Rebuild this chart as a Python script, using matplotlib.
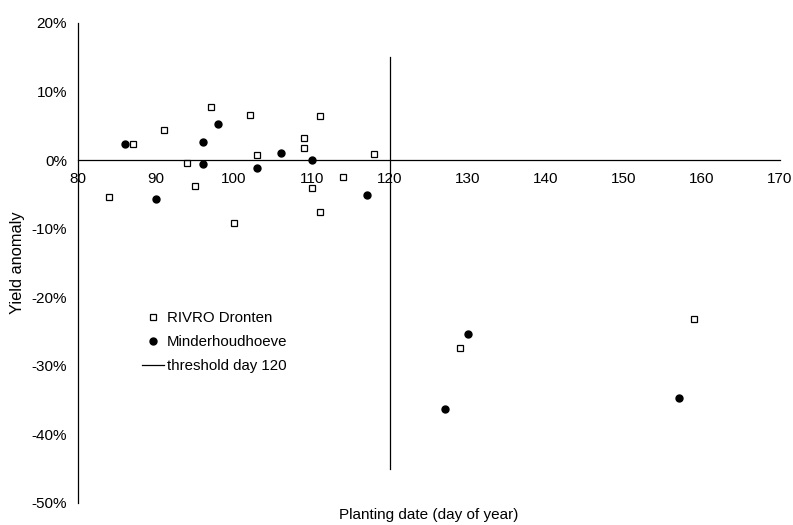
import matplotlib.pyplot as plt
from matplotlib.ticker import FuncFormatter

plt.rcParams['font.family'] = ['Liberation Sans', 'DejaVu Sans']
plt.rcParams['font.size'] = 11

# RIVRO Dronten (day of year, yield anomaly %)
rivro_day = [97, 102, 111, 91, 87, 109, 109, 103, 118, 94, 95, 114, 110, 84, 111, 100, 159, 129]
rivro_anom = [7.8, 6.6, 6.4, 4.4, 2.3, 3.3, 1.75, 0.7, 0.9, -0.4, -3.7, -2.4, -4.0, -5.4, -7.5, -9.1, -23.2, -27.4]

# Minderhoudhoeve
mind_day = [86, 98, 96, 96, 106, 110, 103, 90, 117, 130, 127, 157]
mind_anom = [2.4, 5.3, 2.6, -0.5, 1.1, 0.05, -1.1, -5.6, -5.15, -25.4, -36.3, -34.7]

thr_day = [120, 120]
thr_anom = [-45, 15]

x_ticks = [80, 90, 100, 110, 120, 130, 140, 150, 160, 170]
y_ticks = [-50, -40, -30, -20, -10, 0, 10, 20]

fig = plt.figure(figsize=(7.93, 5.25), dpi=100)
ax = fig.add_axes([78/793, 1 - 503/525, 702/793, 480/525])

ax.plot(rivro_day, rivro_anom, ls='none', marker='s', ms=4.3, mfc='white',
        mec='black', mew=0.9, label='RIVRO Dronten')
ax.plot(mind_day, mind_anom, ls='none', marker='o', ms=5, mfc='black',
        mec='black', label='Minderhoudhoeve')
ax.plot(thr_day, thr_anom, color='black', lw=0.9, label='threshold day 120')

ax.set_xlim(80, 170)
ax.set_ylim(-50, 20)
ax.set_xticks(x_ticks)
ax.set_yticks(y_ticks)
ax.yaxis.set_major_formatter(FuncFormatter(lambda v, p: '%d%%' % v))

ax.spines['top'].set_visible(False)
ax.spines['right'].set_visible(False)
ax.spines['bottom'].set_position(('data', 0))
ax.spines['left'].set_linewidth(0.9)
ax.spines['bottom'].set_linewidth(0.9)
ax.tick_params(axis='both', length=0)
ax.tick_params(axis='x', pad=8.5)
ax.tick_params(axis='y', pad=8)

ax.set_xlabel('Planting date (day of year)', fontsize=11)
ax.xaxis.label.set_va('center')
ax.xaxis.set_label_coords(0.5, -(515 - 503) / 480)
ax.set_ylabel('Yield anomaly', fontsize=11.8)
ax.yaxis.label.set_va('center')
ax.yaxis.set_label_coords((18 - 78) / 702, 0.5)

ax.legend(loc='upper left', bbox_to_anchor=(142/793, 1 - 311/525),
          bbox_transform=fig.transFigure, frameon=False, borderpad=0,
          borderaxespad=0, handlelength=1.45, handletextpad=0.2,
          labelspacing=0.68, prop={'size': 10.8})

fig.savefig('out.png', dpi=100)
